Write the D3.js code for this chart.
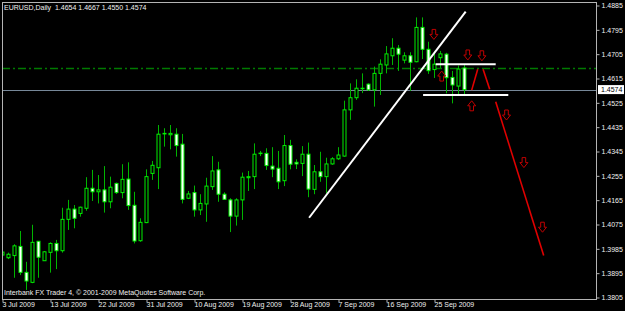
<!DOCTYPE html>
<html>
<head>
<meta charset="utf-8">
<script src="https://cdnjs.cloudflare.com/ajax/libs/d3/7.8.5/d3.min.js"></script>
<style>
body { margin: 0; background: #000; }
svg { display: block; font-family: "Liberation Sans", Arial, sans-serif; }
</style>
</head>
<body>
<div id="chart"></div>
<script>

// data
var symbol = "EURUSD,Daily";
var footer = "Interbank FX Trader 4, \u00a9 2001-2009 MetaQuotes Software Corp.";

var dates = [
    "2009-07-03", "2009-07-05", "2009-07-06", "2009-07-07", "2009-07-08", "2009-07-09", "2009-07-10",
    "2009-07-12", "2009-07-13", "2009-07-14", "2009-07-15", "2009-07-16", "2009-07-17",
    "2009-07-19", "2009-07-20", "2009-07-21", "2009-07-22", "2009-07-23", "2009-07-24",
    "2009-07-26", "2009-07-27", "2009-07-28", "2009-07-29", "2009-07-30", "2009-07-31",
    "2009-08-02", "2009-08-03", "2009-08-04", "2009-08-05", "2009-08-06", "2009-08-07",
    "2009-08-09", "2009-08-10", "2009-08-11", "2009-08-12", "2009-08-13", "2009-08-14",
    "2009-08-16", "2009-08-17", "2009-08-18", "2009-08-19", "2009-08-20", "2009-08-21",
    "2009-08-23", "2009-08-24", "2009-08-25", "2009-08-26", "2009-08-27", "2009-08-28",
    "2009-08-30", "2009-08-31", "2009-09-01", "2009-09-02", "2009-09-03", "2009-09-04",
    "2009-09-06", "2009-09-07", "2009-09-08", "2009-09-09", "2009-09-10", "2009-09-11",
    "2009-09-13", "2009-09-14", "2009-09-15", "2009-09-16", "2009-09-17", "2009-09-18",
    "2009-09-20", "2009-09-21", "2009-09-22", "2009-09-23", "2009-09-24", "2009-09-25",
    "2009-09-27", "2009-09-28", "2009-09-29", "2009-09-30", "2009-10-01"
];

var open = [
    1.3962, 1.3952, 1.3960, 1.3994, 1.3898, 1.3861, 1.4013, 1.3941, 1.3972, 1.4005,
    1.3978, 1.4094, 1.4132, 1.4116, 1.4135, 1.4209, 1.4196, 1.4203, 1.4159, 1.4227,
    1.4193, 1.4243, 1.4146, 1.4015, 1.4082, 1.4264, 1.4285, 1.4410, 1.4407, 1.4409,
    1.4372, 1.4172, 1.4193, 1.4129, 1.4151, 1.4215, 1.4277, 1.4187, 1.4166, 1.4106,
    1.4166, 1.4248, 1.4252, 1.4338, 1.4338, 1.4291, 1.4283, 1.4237, 1.4367, 1.4305,
    1.4301, 1.4335, 1.4205, 1.4270, 1.4252, 1.4299, 1.4318, 1.4328, 1.4499, 1.4544,
    1.4578, 1.4594, 1.4573, 1.4634, 1.4665, 1.4699, 1.4727, 1.4683, 1.4699, 1.4677,
    1.4804, 1.4723, 1.4648, 1.4692, 1.4705, 1.4619, 1.4587, 1.4654
];
var high = [
    1.4029, 1.3971, 1.4002, 1.4051, 1.3937, 1.4074, 1.4014, 1.3977, 1.4009, 1.4018,
    1.4137, 1.4166, 1.4147, 1.4141, 1.4250, 1.4277, 1.4258, 1.4291, 1.4252, 1.4230,
    1.4298, 1.4305, 1.4196, 1.4098, 1.4279, 1.4310, 1.4443, 1.4431, 1.4443, 1.4431,
    1.4410, 1.4199, 1.4219, 1.4187, 1.4248, 1.4328, 1.4307, 1.4194, 1.4172, 1.4172,
    1.4267, 1.4273, 1.4375, 1.4347, 1.4357, 1.4361, 1.4347, 1.4406, 1.4388, 1.4316,
    1.4365, 1.4378, 1.4295, 1.4344, 1.4322, 1.4324, 1.4361, 1.4533, 1.4597, 1.4612,
    1.4634, 1.4597, 1.4659, 1.4686, 1.4735, 1.4764, 1.4739, 1.4712, 1.4712, 1.4841,
    1.4841, 1.4751, 1.4706, 1.4717, 1.4710, 1.4643, 1.4663, 1.4667
];
var low = [
    1.3951, 1.3947, 1.3878, 1.3888, 1.3833, 1.3858, 1.3878, 1.3940, 1.3897, 1.3910,
    1.3971, 1.4055, 1.4061, 1.4104, 1.4126, 1.4162, 1.4153, 1.4119, 1.4135, 1.4188,
    1.4172, 1.4129, 1.4005, 1.4011, 1.4080, 1.4240, 1.4206, 1.4363, 1.4353, 1.4326,
    1.4153, 1.4169, 1.4104, 1.4110, 1.4085, 1.4203, 1.4159, 1.4166, 1.4047, 1.4071,
    1.4092, 1.4199, 1.4206, 1.4328, 1.4277, 1.4250, 1.4206, 1.4217, 1.4279, 1.4280,
    1.4254, 1.4176, 1.4187, 1.4233, 1.4190, 1.4296, 1.4314, 1.4326, 1.4462, 1.4536,
    1.4561, 1.4569, 1.4511, 1.4554, 1.4634, 1.4665, 1.4643, 1.4671, 1.4569, 1.4675,
    1.4687, 1.4632, 1.4617, 1.4654, 1.4560, 1.4523, 1.4556, 1.4550
];
var close = [
    1.3973, 1.3965, 1.3996, 1.3898, 1.3866, 1.4009, 1.3954, 1.3974, 1.4005, 1.3978,
    1.4094, 1.4132, 1.4098, 1.4139, 1.4209, 1.4196, 1.4203, 1.4159, 1.4213, 1.4193,
    1.4242, 1.4145, 1.4014, 1.4083, 1.4252, 1.4294, 1.4409, 1.4412, 1.4412, 1.4367,
    1.4168, 1.4188, 1.4129, 1.4153, 1.4217, 1.4273, 1.4187, 1.4168, 1.4106, 1.4166,
    1.4250, 1.4252, 1.4335, 1.4339, 1.4293, 1.4280, 1.4233, 1.4367, 1.4298, 1.4299,
    1.4335, 1.4206, 1.4270, 1.4252, 1.4299, 1.4318, 1.4332, 1.4499, 1.4544, 1.4579,
    1.4579, 1.4573, 1.4634, 1.4668, 1.4706, 1.4727, 1.4705, 1.4699, 1.4675, 1.4804,
    1.4723, 1.4644, 1.4668, 1.4706, 1.4618, 1.4591, 1.4650, 1.4574
];

var priceTicks = [1.4885, 1.4795, 1.4705, 1.4615, 1.4525, 1.4435, 1.4345,
                  1.4255, 1.4165, 1.4075, 1.3985, 1.3895, 1.3805];
var dateTickIdx = [0, 8, 16, 24, 32, 40, 48, 56, 64, 72];

// drawn objects, x in bar number, y in price
var levelLine = 1.4652;
var trendLine = [[51.1, 1.4100], [77.2, 1.4862]];
var whiteLines = [
    [[72.2, 1.4668], [82.2, 1.4668]],
    [[70.1, 1.4554], [84.3, 1.4554]]
];
var redLines = [
    [[78.2, 1.4572], [79.2, 1.4649]],
    [[80.1, 1.4649], [81.2, 1.4575]],
    [[82.2, 1.4529], [90.2, 1.3960]]
];
var arrowsDown = [[71.9, 1.4778], [77.55, 1.4702], [79.9, 1.4699], [84.0, 1.4480], [86.9, 1.4304], [90.0, 1.4065]];
var arrowsUp = [[73.2, 1.4624], [78.2, 1.4514]];


var width = 625;
var height = 311;
var plot = { left: 2, right: 596, top: 2, bottom: 299 };

var parse = d3.timeParse("%Y-%m-%d");
var fmt = d3.timeFormat("%-d %b %Y");
var last = close.length - 1;

var x = d3.scaleLinear()
    .domain([0, 99])
    .range([2.5, 596.5]);
var y = d3.scaleLinear()
    .domain([1.3805, 1.4885])
    .range([297.5, 5.5]);

var svg = d3.select("#chart")
    .append("svg")
    .attr("width", width)
    .attr("height", height);

svg.append("rect")
    .attr("width", width)
    .attr("height", height)
    .attr("fill", "#000");

svg.append("clipPath")
    .attr("id", "clip")
    .append("rect")
    .attr("x", plot.left)
    .attr("y", plot.top)
    .attr("width", plot.right - plot.left)
    .attr("height", plot.bottom - plot.top);

var g = svg.append("g").attr("clip-path", "url(#clip)");

// horizontal level + bid line
g.append("line")
    .attr("x1", plot.left).attr("x2", plot.right)
    .attr("y1", y(levelLine)).attr("y2", y(levelLine))
    .attr("stroke", "#007a00")
    .attr("stroke-width", 1.5)
    .attr("stroke-dasharray", "8,3,2,3");

g.append("line")
    .attr("x1", plot.left).attr("x2", plot.right)
    .attr("y1", Math.round(y(close[last])) + 0.5).attr("y2", Math.round(y(close[last])) + 0.5)
    .attr("stroke", "#778899")
    .attr("stroke-width", 1);

// candles
var idx = d3.range(close.length);

g.selectAll(".wick")
    .data(idx)
    .enter().append("line")
    .attr("class", "wick")
    .attr("x1", function(i) { return x(i); })
    .attr("x2", function(i) { return x(i); })
    .attr("y1", function(i) { return y(high[i]); })
    .attr("y2", function(i) { return y(low[i]); })
    .attr("stroke", "#00b400")
    .attr("stroke-width", 1);

g.selectAll(".body")
    .data(idx)
    .enter().append("rect")
    .attr("class", "body")
    .attr("x", function(i) { return x(i) - 1.5; })
    .attr("width", 3)
    .attr("y", function(i) { return y(Math.max(open[i], close[i])); })
    .attr("height", function(i) { return Math.max(0.5, Math.abs(y(open[i]) - y(close[i]))); })
    .attr("fill", function(i) { return close[i] >= open[i] ? "#000" : "#fff"; })
    .attr("stroke", "#00f000")
    .attr("stroke-width", 1);

// drawn lines
var line = d3.line()
    .x(function(d) { return x(d[0]); })
    .y(function(d) { return y(d[1]); });

g.append("path")
    .datum(trendLine)
    .attr("d", line)
    .attr("fill", "none")
    .attr("stroke", "#fff")
    .attr("stroke-width", 2);

g.selectAll(".wline")
    .data(whiteLines)
    .enter().append("path")
    .attr("class", "wline")
    .attr("d", line)
    .attr("fill", "none")
    .attr("stroke", "#fff")
    .attr("stroke-width", 2);

g.selectAll(".rline")
    .data(redLines)
    .enter().append("path")
    .attr("class", "rline")
    .attr("d", line)
    .attr("fill", "none")
    .attr("stroke", "#e00000")
    .attr("stroke-width", 1.6);

// arrows
var downArrow = "M-1.8,-5L1.8,-5L1.8,0L4,0L0,5L-4,0L-1.8,0Z";
var upArrow = "M-1.8,5L1.8,5L1.8,0L4,0L0,-5L-4,0L-1.8,0Z";

g.selectAll(".adown")
    .data(arrowsDown)
    .enter().append("path")
    .attr("class", "adown")
    .attr("d", downArrow)
    .attr("transform", function(d) { return "translate(" + x(d[0]) + "," + y(d[1]) + ")"; })
    .attr("fill", "none")
    .attr("stroke", "#c00000")
    .attr("stroke-width", 1);

g.selectAll(".aup")
    .data(arrowsUp)
    .enter().append("path")
    .attr("class", "aup")
    .attr("d", upArrow)
    .attr("transform", function(d) { return "translate(" + x(d[0]) + "," + y(d[1]) + ")"; })
    .attr("fill", "none")
    .attr("stroke", "#c00000")
    .attr("stroke-width", 1);

// frame
svg.append("rect")
    .attr("x", plot.left + 0.5)
    .attr("y", plot.top + 0.5)
    .attr("width", plot.right - plot.left)
    .attr("height", plot.bottom - plot.top)
    .attr("fill", "none")
    .attr("stroke", "#b4b4b4")
    .attr("stroke-width", 1);

// axes
var yAxis = svg.append("g")
    .attr("transform", "translate(" + (plot.right + 0.5) + ",0)")
    .call(d3.axisRight(y)
        .tickValues(priceTicks)
        .tickSize(3)
        .tickPadding(2)
        .tickFormat(d3.format(".4f")));

var xAxis = svg.append("g")
    .attr("transform", "translate(0," + (plot.bottom + 0.5) + ")")
    .call(d3.axisBottom(x)
        .tickValues(dateTickIdx)
        .tickSize(3)
        .tickFormat(function(i) { return fmt(parse(dates[i])); }));

svg.selectAll(".domain").remove();
svg.selectAll(".tick line").attr("stroke", "#b4b4b4");
svg.selectAll(".tick text")
    .attr("fill", "#f0f0f0")
    .style("font-size", "7px")
    .style("font-family", "'Liberation Sans', Arial, sans-serif");

xAxis.selectAll(".tick text")
    .attr("text-anchor", "start")
    .attr("x", -0.5)
    .attr("y", 2.5);

// bid price label
var bidY = y(close[last]);
svg.append("rect")
    .attr("x", 598)
    .attr("y", bidY - 4.5)
    .attr("width", 26)
    .attr("height", 9)
    .attr("fill", "#fff");
svg.append("text")
    .attr("x", 601)
    .attr("y", bidY)
    .attr("dy", "0.35em")
    .attr("fill", "#000")
    .style("font-size", "7px")
    .text(d3.format(".4f")(close[last]));

// header + footer
var f4 = d3.format(".4f");
svg.append("text")
    .attr("x", 4)
    .attr("y", 9.5)
    .attr("fill", "#f0f0f0")
    .style("font-size", "7px")
    .style("white-space", "pre")
    .attr("xml:space", "preserve")
    .text(symbol + "  " + f4(open[last]) + " " + f4(high[last]) + " " + f4(low[last]) + " " + f4(close[last]));

svg.append("text")
    .attr("x", 4)
    .attr("y", 294.5)
    .attr("fill", "#f0f0f0")
    .style("font-size", "7px")
    .text(footer);

</script>
</body>
</html>
